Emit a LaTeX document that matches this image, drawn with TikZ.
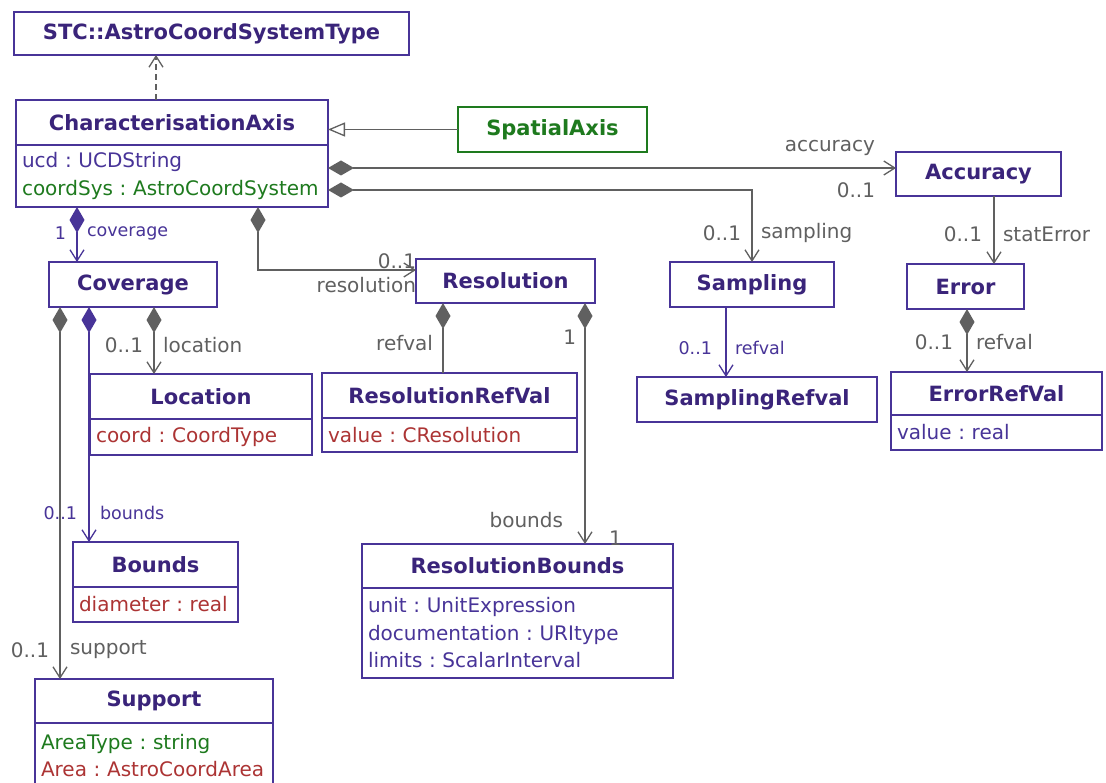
\documentclass[tikz,border=0pt]{standalone}
\usepackage{fontspec}
\setmainfont{DejaVu Sans}
\usetikzlibrary{arrows.meta}
\frenchspacing

\definecolor{umlindigo}{RGB}{72,52,152}
\definecolor{umlname}{RGB}{58,36,122}
\definecolor{umlgray}{RGB}{96,96,96}
\definecolor{umlgreen}{RGB}{30,122,30}
\definecolor{umlred}{RGB}{172,52,52}

\newcommand{\clsfont}{\fontsize{21}{24}\selectfont\bfseries}
\newcommand{\attrfont}{\fontsize{20}{27.5}\selectfont}
\newcommand{\lblfont}{\fontsize{20}{22}\selectfont}
\newcommand{\smlfont}{\fontsize{17.5}{20}\selectfont}

\begin{document}
\begin{tikzpicture}[
            x = 1pt, y = -1pt,
            every node/.style={outer sep=0pt},
            cls/.style={draw=umlindigo, line width=1.3pt, fill=white, text=umlname, font=\clsfont, anchor=north west},
            attrbox/.style={draw=umlindigo, line width=1.3pt, fill=white, text=umlindigo, font=\attrfont, align=left, inner xsep=6pt, inner ysep=0pt, anchor=north},
            lbl/.style={text=umlgray, font=\lblfont, inner sep=0pt},
            slbl/.style={text=umlindigo, font=\smlfont, inner sep=0pt},
            line/.style={draw=umlgray, line width=1.3pt},
            comp/.style={line, {Diamond[length=26pt,width=15pt]}-{Straight Barb[length=11pt,width=14pt]}},
            compline/.style={line, {Diamond[length=26pt,width=15pt]}-},
            assoc/.style={line, -{Straight Barb[length=11pt,width=14pt]}},
            dep/.style={line, dash pattern=on 6pt off 4pt, -{Straight Barb[length=11pt,width=14pt]}},
            gen/.style={line, -{Triangle[open, fill=white, length=17pt, width=14pt]}},
            ]

        \useasboundingbox (0,0) rectangle (1106,783);
        \fill[white] (0,0) rectangle (1106,783);

        % classes with a name only
        \foreach \nm/\x/\y/\w/\h/\txt in {
                stc/14/12/395/43/STC::AstroCoordSystemType,
                accuracy/896/152/165/44/Accuracy,
                error/907/264/117/45/Error,
                sampling/670/262/164/45/Sampling,
                sampRef/637/377/240/45/SamplingRefval,
                resolution/416/259/179/44/Resolution,
                coverage/49/262/168/45/Coverage}
            \node[cls, minimum width=\w pt, minimum height=\h pt] (\nm) at (\x, \y) {\txt};

        \node[cls, draw=umlgreen, text=umlgreen, minimum width=189pt, minimum height=45pt] (spatial) at (458, 107) {SpatialAxis};

        % classes with attributes
        \node[cls, minimum width=312pt, minimum height=45pt] (charAxis) at (16, 100) {CharacterisationAxis};
        \node[attrbox, text width=300pt, minimum height=62pt] (charAxisA) at (charAxis.south)
            {ucd : UCDString\\ \textcolor{umlgreen}{coordSys : AstroCoordSystem}};

        \node[cls, minimum width=211pt, minimum height=43pt] (errRef) at (891, 372) {ErrorRefVal};
        \node[attrbox, text width=199pt, minimum height=35pt] (errRefA) at (errRef.south) {value : real};

        \node[cls, minimum width=255pt, minimum height=45pt] (resRef) at (322, 373) {ResolutionRefVal};
        \node[attrbox, text=umlred, text width=243pt, minimum height=34pt] (resRefA) at (resRef.south) {value : CResolution};

        \node[cls, minimum width=311pt, minimum height=44pt] (resBounds) at (362, 544) {ResolutionBounds};
        \node[attrbox, text width=299pt, minimum height=90pt] (resBoundsA) at (resBounds.south)
            {unit : UnitExpression\\ documentation : URItype\\ limits : ScalarInterval};

        \node[cls, minimum width=222pt, minimum height=45pt] (location) at (90, 374) {Location};
        \node[attrbox, text=umlred, text width=210pt, minimum height=36pt] (locationA) at (location.south) {coord : CoordType};

        \node[cls, minimum width=165pt, minimum height=45pt] (bounds) at (73, 542) {Bounds};
        \node[attrbox, text=umlred, text width=153pt, minimum height=35pt] (boundsA) at (bounds.south) {diameter : real};

        \node[cls, minimum width=238pt, minimum height=44pt] (support) at (35, 679) {Support};
        \node[attrbox, text=umlred, text width=226pt, minimum height=65pt] (supportA) at (support.south)
            {\textcolor{umlgreen}{AreaType : string}\\ Area : AstroCoordArea};

        % connectors
        \draw[dep] ([xshift=-16pt]charAxis.north) -- ([xshift=-16pt]charAxis.north |- stc.south);
        \draw[gen] (spatial.west) -- (spatial.west -| charAxis.east);

        \draw[comp] ([yshift=8pt]charAxisA.east) -- ([yshift=8pt]charAxisA.east -| accuracy.west)
            node[lbl, anchor=east, xshift=-21pt, yshift=20pt] {accuracy}
            node[lbl, anchor=east, xshift=-21pt, yshift=-22pt] {0..1};
        \draw[comp] ([yshift=-14pt]charAxisA.east) -| (sampling.north)
            node[lbl, anchor=east, xshift=-11pt, yshift=29pt] {0..1}
            node[lbl, anchor=west, xshift=9pt, yshift=29pt] {sampling};
        \draw[comp] ([xshift=86pt]charAxisA.south) |- ([yshift=11pt]resolution.west)
            node[lbl, anchor=east, yshift=9pt] {0..1}
            node[lbl, anchor=east, yshift=-15pt] {resolution};
        \draw[comp, draw=umlindigo] ([xshift=-95pt]charAxisA.south) -- ([xshift=-95pt]charAxisA.south |- coverage.north)
            node[slbl, anchor=east, xshift=-11pt, yshift=29pt] {1}
            node[slbl, anchor=west, xshift=10pt, yshift=29pt] {coverage};

        \draw[assoc] ([xshift=15.5pt]accuracy.south) -- ([xshift=15.5pt]accuracy.south |- error.north)
            node[lbl, anchor=east, xshift=-12pt, yshift=30pt] {0..1}
            node[lbl, anchor=west, xshift=9pt, yshift=30pt] {statError};
        \draw[comp] ([xshift=1.5pt]error.south) -- ([xshift=1.5pt]error.south |- errRef.north)
            node[lbl, anchor=east, xshift=-14pt, yshift=30pt] {0..1}
            node[lbl, anchor=west, xshift=9pt, yshift=30pt] {refval};
        \draw[assoc, draw=umlindigo] ([xshift=-26pt]sampling.south) -- ([xshift=-26pt]sampling.south |- sampRef.north)
            node[slbl, anchor=east, xshift=-14pt, yshift=29pt] {0..1}
            node[slbl, anchor=west, xshift=9pt, yshift=29pt] {refval};

        \draw[compline] ([xshift=-62.5pt]resolution.south) -- ([xshift=-62.5pt]resolution.south |- resRef.north)
            node[lbl, anchor=east, xshift=-10pt, yshift=30pt] {refval};
        \draw[comp] ([xshift=79.5pt]resolution.south)
            node[lbl, anchor=east, xshift=-9pt, yshift=-34pt] {1}
            -- ([xshift=79.5pt]resolution.south |- resBounds.north)
            node[lbl, anchor=east, xshift=-22pt, yshift=24pt] {bounds}
            node[lbl, anchor=west, xshift=24pt, yshift=6pt] {1};

        \draw[comp] ([xshift=21pt]coverage.south) -- ([xshift=21pt]coverage.south |- location.north)
            node[lbl, anchor=east, xshift=-11pt, yshift=29pt] {0..1}
            node[lbl, anchor=west, xshift=9pt, yshift=29pt] {location};
        \draw[comp, draw=umlindigo] ([xshift=-44pt]coverage.south) -- ([xshift=-44pt]coverage.south |- bounds.north)
            node[slbl, anchor=east, xshift=-12pt, yshift=29pt] {0..1}
            node[slbl, anchor=west, xshift=11pt, yshift=29pt] {bounds};
        \draw[comp] ([xshift=-73pt]coverage.south) -- ([xshift=-73pt]coverage.south |- support.north)
            node[lbl, anchor=east, xshift=-11pt, yshift=29pt] {0..1}
            node[lbl, anchor=west, xshift=10pt, yshift=29pt] {support};
    \end{tikzpicture}
\end{document}
